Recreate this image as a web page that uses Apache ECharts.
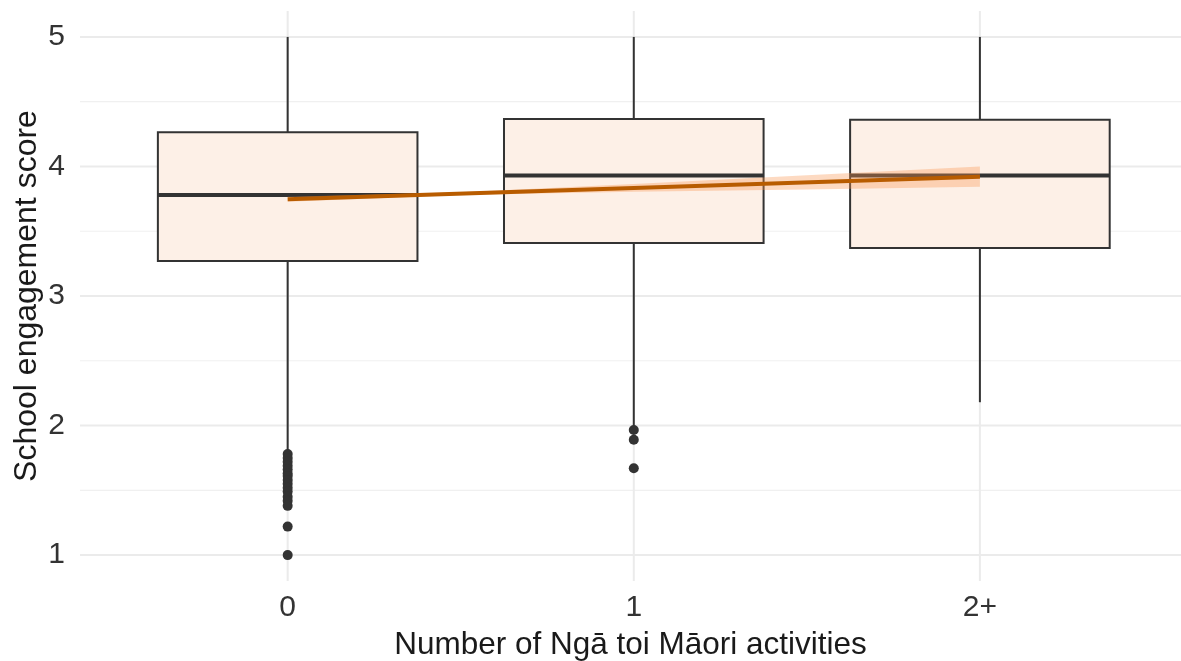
<!DOCTYPE html>
<html>
<head>
<meta charset="utf-8">
<script src="https://cdn.jsdelivr.net/npm/echarts@6/dist/echarts.min.js"></script>
<style>html,body{margin:0;padding:0;background:#fff}#c{width:1181px;height:661px}</style>
</head>
<body>
<div id="c"></div>
<script>
// ---- data ----
const categories = ['0', '1', '2+'];
const whiskerLow = [1.80, 1.99, 2.18];
const q1 = [3.27, 3.41, 3.37];
const median = [3.78, 3.93, 3.93];
const q3 = [4.265, 4.367, 4.36];
const whiskerHigh = [5.0, 5.0, 5.0];
const outliers0 = [1.78, 1.75, 1.72, 1.69, 1.66, 1.63, 1.61, 1.58, 1.55, 1.52, 1.49, 1.45, 1.42, 1.38, 1.22, 1.0];
const outliers1 = [1.965, 1.89, 1.67];
const outliers2 = [];
const trendX = [0, 2];
const trendY = [3.747, 3.921];
const ribbonX = [0, 0.5, 1, 1.5, 2];
const ribbonLow = [3.727, 3.780, 3.804, 3.822, 3.843];
const ribbonHigh = [3.767, 3.800, 3.864, 3.932, 3.999];
const yTicks = [1, 2, 3, 4, 5];
const yMinor = [1.5, 2.5, 3.5, 4.5];
const xTicks = [0, 1, 2];

// ---- build ----
const outlierSets = [outliers0, outliers1, outliers2];
const outlierData = [];
outlierSets.forEach((arr, i) => arr.forEach(v => outlierData.push([i, v])));
const boxData = categories.map((c, i) => [i, whiskerLow[i], q1[i], median[i], q3[i], whiskerHigh[i]]);
const ribbonData = ribbonX.map((x, i) => [x, ribbonLow[i], ribbonHigh[i]]);
const trendData = trendX.map((x, i) => [x, trendY[i]]);
// gridline records: [kind, value]  kind 0 = minor horizontal, 1 = major horizontal, 2 = vertical
const gridData = [
  ...yMinor.map(v => [0, v]),
  ...yTicks.map(v => [1, v]),
  ...xTicks.map(v => [2, v])
];

const dark = '#333333';
const font = 'Liberation Sans, Arial, sans-serif';
const chart = echarts.init(document.getElementById('c'), null, {renderer: 'canvas'});

chart.setOption({
  animation: false,
  backgroundColor: '#ffffff',
  grid: {left: 80, right: 0, top: 11, bottom: 80, outerBoundsMode: 'none', containLabel: false},
  xAxis: {
    type: 'value', min: -0.6, max: 2.581,
    axisLine: {show: false}, axisTick: {show: false}, splitLine: {show: false},
    axisLabel: {
      customValues: xTicks,
      formatter: v => categories[Math.round(v)] ?? '',
      color: '#333333', fontSize: 30, fontFamily: font, margin: 12
    },
    name: 'Number of Ngā toi Māori activities', nameLocation: 'middle', nameGap: 48,
    nameMoveOverlap: false,
    nameTextStyle: {color: '#1a1a1a', fontSize: 31.5, fontFamily: font}
  },
  yAxis: {
    type: 'value', min: 0.8, max: 5.2,
    axisLine: {show: false}, axisTick: {show: false}, splitLine: {show: false},
    axisLabel: {
      customValues: yTicks,
      color: '#333333', fontSize: 30, fontFamily: font, margin: 15
    },
    name: 'School engagement score', nameLocation: 'middle', nameGap: 37,
    nameMoveOverlap: false,
    nameTextStyle: {color: '#1a1a1a', fontSize: 32, fontFamily: font}
  },
  series: [
    {
      type: 'custom', z: 0, silent: true,
      data: gridData,
      renderItem: function (params, api) {
        const kind = api.value(0), v = api.value(1);
        const cs = params.coordSys;
        let shape;
        if (kind === 2) {
          const p = api.coord([v, 3]);
          shape = {x1: p[0], y1: cs.y, x2: p[0], y2: cs.y + cs.height};
        } else {
          const p = api.coord([0, v]);
          shape = {x1: cs.x, y1: p[1], x2: cs.x + cs.width, y2: p[1]};
        }
        return {
          type: 'line', shape: shape,
          style: {stroke: kind === 0 ? '#f0f0f0' : '#ebebeb', lineWidth: kind === 0 ? 1.2 : 2}
        };
      }
    },
    {
      type: 'custom', z: 2, silent: true,
      data: boxData,
      encode: {x: 0, y: [1, 2, 3, 4, 5]},
      renderItem: function (params, api) {
        const x = api.value(0);
        const wl = api.value(1), a = api.value(2), m = api.value(3), b = api.value(4), wh = api.value(5);
        const hw = 0.375;
        const pTL = api.coord([x - hw, b]);
        const pBR = api.coord([x + hw, a]);
        const pc = (yy) => api.coord([x, yy]);
        const ln = (p1, p2, w) => ({
          type: 'line', shape: {x1: p1[0], y1: p1[1], x2: p2[0], y2: p2[1]},
          style: {stroke: dark, lineWidth: w}
        });
        return {
          type: 'group',
          children: [
            ln(pc(wh), pc(b), 2),
            ln(pc(a), pc(wl), 2),
            {type: 'rect', shape: {x: pTL[0], y: pTL[1], width: pBR[0] - pTL[0], height: pBR[1] - pTL[1]},
             style: {fill: '#fdf0e7', stroke: dark, lineWidth: 2}},
            ln(api.coord([x - hw, m]), api.coord([x + hw, m]), 4)
          ]
        };
      }
    },
    {
      type: 'scatter', z: 3, silent: true,
      data: outlierData, symbol: 'circle', symbolSize: 10,
      itemStyle: {color: dark, opacity: 1}
    },
    {
      type: 'custom', z: 4, silent: true,
      data: ribbonData,
      encode: {x: 0, y: [1, 2]},
      renderItem: function (params, api) {
        if (params.dataIndex !== 0) return;
        const pts = [];
        for (let i = 0; i < ribbonData.length; i++) pts.push(api.coord([ribbonData[i][0], ribbonData[i][2]]));
        for (let i = ribbonData.length - 1; i >= 0; i--) pts.push(api.coord([ribbonData[i][0], ribbonData[i][1]]));
        return {type: 'polygon', shape: {points: pts}, style: {fill: 'rgba(250,150,80,0.35)'}};
      }
    },
    {
      type: 'line', z: 5, silent: true,
      data: trendData, showSymbol: false, symbol: 'none',
      lineStyle: {color: '#b85c00', width: 4}
    }
  ]
});
</script>
</body>
</html>
